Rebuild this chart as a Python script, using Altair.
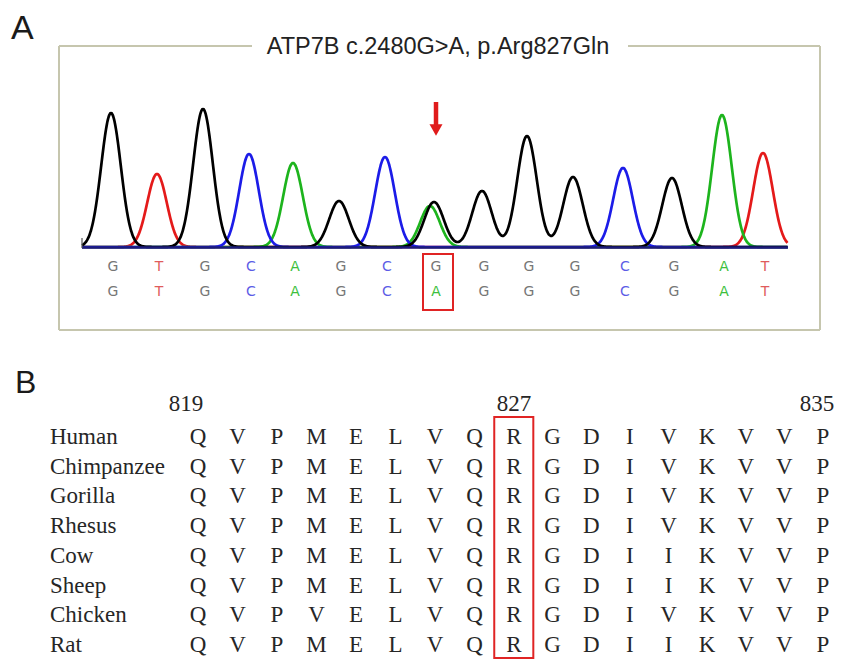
import altair as alt
import pandas as pd
import numpy as np

# ---------------- data ----------------
# Chromatogram: base calls (scan position, called base, peak height)
peak_pos = [111, 157, 203, 249, 293, 339, 385, 434, 482, 527, 573, 623, 672, 722, 763]
peak_base = ["G", "T", "G", "C", "A", "G", "C", "G", "G", "G", "G", "C", "G", "A", "T"]
peak_height = [134, 73, 138, 93, 84, 46, 90, 45, 56, 111, 70, 79, 69, 132, 94]
# secondary (mutant) peak at the variant position
sec_pos = [430]
sec_base = ["A"]
sec_height = [41]
# base-call rows (reference / patient)
seq_ref = list("GTGCAGCGGGGCGAT")
seq_mut = list("GTGCAGCAGGGCGAT")
mut_index = 7

title_a = "ATP7B c.2480G>A, p.Arg827Gln"

# Alignment panel
species = ["Human", "Chimpanzee", "Gorilla", "Rhesus", "Cow", "Sheep", "Chicken", "Rat"]
aln = [
    "QVPMELVQRGDIVKVVP",
    "QVPMELVQRGDIVKVVP",
    "QVPMELVQRGDIVKVVP",
    "QVPMELVQRGDIVKVVP",
    "QVPMELVQRGDIIKVVP",
    "QVPMELVQRGDIIKVVP",
    "QVPVELVQRGDIVKVVP",
    "QVPMELVQRGDIIKVVP",
]
start_res = 819
marked_res = [819, 827, 835]
highlight_res = 827

# ---------------- build tables ----------------
SIGMA = 9.8
scan = np.arange(82, 788, 0.5)
trace_rows = []
all_pos = peak_pos + sec_pos
all_base = peak_base + sec_base
all_h = peak_height + sec_height
for ch in ["T", "A", "C", "G"]:
    sig = np.zeros_like(scan)
    for p, b, h in zip(all_pos, all_base, all_h):
        if b == ch:
            sig += h * np.exp(-((scan - p) ** 2) / (2 * SIGMA ** 2))
    for s, v in zip(scan, sig):
        trace_rows.append({"scan": s, "signal": v, "channel": ch})
traces = pd.DataFrame(trace_rows)

calls = pd.DataFrame({"scan": peak_pos, "ref": seq_ref, "mut": seq_mut})
mut_call = calls.iloc[[mut_index]].copy()
mut_call["x1"] = mut_call["scan"] - 11
mut_call["x2"] = mut_call["scan"] + 19
mut_call["arrow"] = mut_call["scan"] + 2

aln_rows = []
for sp, seq in zip(species, aln):
    for i, aa in enumerate(seq):
        aln_rows.append({"species": sp, "res": start_res + i, "aa": aa})
aln_df = pd.DataFrame(aln_rows)
hl_df = pd.DataFrame({"r1": [highlight_res - 0.5], "r2": [highlight_res + 0.5]})
sp_df = pd.DataFrame({"species": species})
one = pd.DataFrame({"k": [0]})

# ---------------- scales (layout) ----------------
xs = alt.Scale(domain=[80, 790], range=[72, 782])
ys = alt.Scale(domain=[0, 150], range=[239, 89])
chan_colors = alt.Scale(domain=["A", "C", "G", "T"],
                        range=["#1db41d", "#1c1ce8", "#000000", "#e41a1a"])
call_colors = alt.Scale(domain=["A", "C", "G", "T"],
                        range=["#3dbf3d", "#5c5ce6", "#767676", "#e05c5c"])
rx = alt.Scale(domain=[819, 827, 835], range=[190, 506, 815])
sy = alt.Scale(domain=species, range=[429, 637], padding=0)

FRAME = "#c6c6ae"
TXT = "#262626"
layers = []

# frame around panel A
for enc in [
    dict(x=alt.value(51), y=alt.value(38), y2=alt.value(322)),
    dict(x=alt.value(812), y=alt.value(38), y2=alt.value(322)),
    dict(x=alt.value(51), x2=alt.value(812), y=alt.value(322)),
    dict(x=alt.value(51), x2=alt.value(244), y=alt.value(38)),
    dict(x=alt.value(620), x2=alt.value(812), y=alt.value(38)),
]:
    layers.append(alt.Chart(one).mark_rule(color=FRAME, strokeWidth=2).encode(**enc))

# panel labels and title
layers.append(alt.Chart(one).mark_text(text="A", font="Liberation Sans", fontSize=34,
                                       align="left", baseline="alphabetic", color="#1a1a1a")
              .encode(x=alt.value(3), y=alt.value(31)))
layers.append(alt.Chart(one).mark_text(text="B", font="Liberation Sans", fontSize=32,
                                       align="left", baseline="alphabetic", color="#1a1a1a")
              .encode(x=alt.value(7), y=alt.value(385)))
layers.append(alt.Chart(one).mark_text(text=title_a, font="Liberation Sans", fontSize=23.5,
                                       align="center", baseline="middle", color="#222222")
              .encode(x=alt.value(430), y=alt.value(39)))

# chromatogram traces
for ch in ["T", "A", "C", "G"]:
    layers.append(
        alt.Chart(traces[traces["channel"] == ch]).mark_line(strokeWidth=2.7, interpolate="monotone")
        .encode(x=alt.X("scan:Q", scale=xs, axis=None),
                y=alt.Y("signal:Q", scale=ys, axis=None),
                color=alt.Color("channel:N", scale=chan_colors, legend=None))
    )
# baseline and left tick
layers.append(alt.Chart(one).mark_rule(color="#1b1b7a", strokeWidth=2.5)
              .encode(x=alt.value(74), x2=alt.value(780), y=alt.value(239.5)))
layers.append(alt.Chart(one).mark_rule(color="#555555", strokeWidth=1.2)
              .encode(x=alt.value(74), y=alt.value(230), y2=alt.value(240)))

# red arrow over the variant
layers.append(alt.Chart(mut_call).mark_rule(color="#e01b1b", strokeWidth=4.5)
              .encode(x=alt.X("arrow:Q", scale=xs, axis=None), y=alt.value(94), y2=alt.value(119)))
layers.append(alt.Chart(mut_call).mark_point(shape="triangle-down", filled=True, size=170,
                                             color="#e01b1b", opacity=1)
              .encode(x=alt.X("arrow:Q", scale=xs, axis=None), y=alt.value(122)))

# base-call rows
for field, yy in [("ref", 259), ("mut", 284)]:
    layers.append(
        alt.Chart(calls).mark_text(font="DejaVu Sans", fontSize=14, baseline="middle", dx=2)
        .encode(x=alt.X("scan:Q", scale=xs, axis=None), y=alt.value(yy),
                text=f"{field}:N",
                color=alt.Color(f"{field}:N", scale=call_colors, legend=None))
    )
layers.append(alt.Chart(mut_call).mark_rect(fill=None, stroke="#e02424", strokeWidth=2)
              .encode(x=alt.X("x1:Q", scale=xs, axis=None), x2="x2:Q",
                      y=alt.value(246), y2=alt.value(302)))

# ---------------- panel B ----------------
# residue number labels (small horizontal nudges as in the original figure)
for res, nudge in zip(marked_res, [-12, 0, -6]):
    layers.append(alt.Chart(pd.DataFrame({"res": [res], "label": [str(res)]}))
                  .mark_text(font="Liberation Serif", fontSize=23, baseline="middle",
                             color=TXT, dx=nudge)
                  .encode(x=alt.X("res:Q", scale=rx, axis=None), y=alt.value(396), text="label:N"))
layers.append(alt.Chart(sp_df).mark_text(font="Liberation Serif", fontSize=23, align="left",
                                         baseline="middle", color=TXT)
              .encode(x=alt.value(42), y=alt.Y("species:N", scale=sy, axis=None), text="species:N"))
layers.append(alt.Chart(aln_df).mark_text(font="Liberation Serif", fontSize=23,
                                          baseline="middle", color=TXT)
              .encode(x=alt.X("res:Q", scale=rx, axis=None),
                      y=alt.Y("species:N", scale=sy, axis=None), text="aa:N"))
layers.append(alt.Chart(hl_df).mark_rect(fill=None, stroke="#e02424", strokeWidth=2)
              .encode(x=alt.X("r1:Q", scale=rx, axis=None), x2="r2:Q",
                      y=alt.value(409), y2=alt.value(650)))

chart = (
    alt.layer(*layers)
    .resolve_scale(x="independent", y="independent", color="independent")
    .properties(width=827, height=653, padding=0, autosize=alt.AutoSizeParams(type="none"))
    .configure_view(stroke=None)
)

chart.save("out.html", embed_options={"renderer": "svg", "actions": False})
